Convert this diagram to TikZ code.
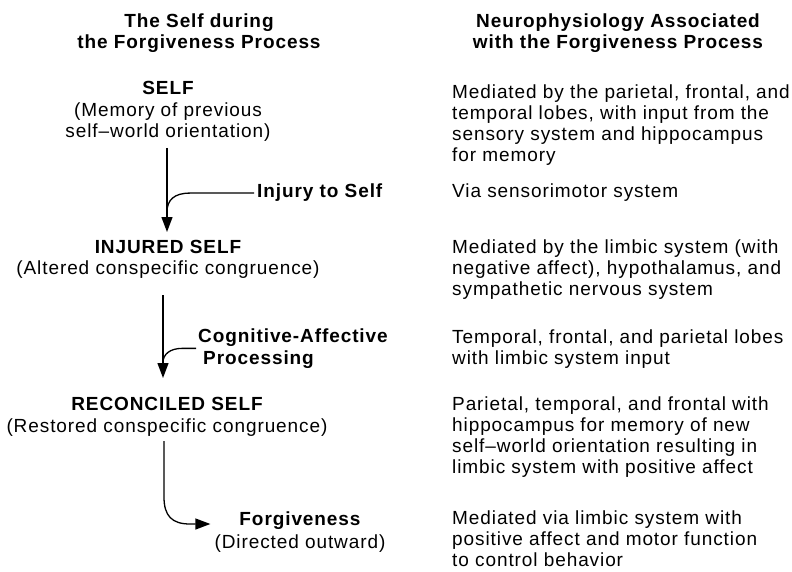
\documentclass[tikz,border=0pt]{standalone}
\usepackage{fontspec}
\setmainfont{Liberation Sans}[LetterSpace=4.8]
\usetikzlibrary{arrows.meta}
\begin{document}
\begin{tikzpicture}[x=1pt,y=-1pt,
  txt/.style={anchor=base, inner sep=0pt, font=\fontsize{19}{21}\selectfont},
  btxt/.style={txt, font=\fontsize{19}{21.5}\selectfont\bfseries},
  blockc/.style={txt, align=center},
  blockl/.style={txt, anchor=base west, align=left},
  conn/.style={line width=1.3pt},
  arr/.style={conn, -{Triangle[length=15pt,width=11pt]}}]
\useasboundingbox (0,0) rectangle (792,572);
% headers (anchor base = baseline of last line)
\node[btxt, align=center] (hl) at (199,49) {The Self during\\the Forgiveness Process};
\node[btxt, align=center] (hr) at (618,49) {Neurophysiology Associated\\with the Forgiveness Process};
% left column
\node[btxt] (self) at (168,95) {SELF};
\node[blockc] (selfd) at (168,138) {(Memory of previous\\self--world orientation)};
\node[btxt, anchor=base west] (injury) at (257,198) {Injury to Self};
\node[btxt] (injured) at (168,253) {INJURED SELF};
\node[blockc] (injuredd) at (168,274) {(Altered conspecific congruence)};
\node[btxt, anchor=base west, align=left] (cog) at (198,364) {Cognitive-Affective\\\hspace*{5pt}Processing};
\node[btxt] (recon) at (167,410) {RECONCILED SELF};
\node[blockc] (recond) at (167,432) {(Restored conspecific congruence)};
\node[btxt] (forg) at (300,525) {Forgiveness};
\node[blockc] (forgd) at (300,548) {(Directed outward)};
% right column (anchor base = baseline of last line)
\node[blockl] (r1) at (452,162) {Mediated by the parietal, frontal, and\\temporal lobes, with input from the\\sensory system and hippocampus\\for memory};
\node[blockl] (r2) at (452,198) {Via sensorimotor system};
\node[blockl] (r3) at (452,295) {Mediated by the limbic system (with\\negative affect), hypothalamus, and\\sympathetic nervous system};
\node[blockl] (r4) at (452,364) {Temporal, frontal, and parietal lobes\\with limbic system input};
\node[blockl] (r5) at (452,473) {Parietal, temporal, and frontal with\\hippocampus for memory of new\\self--world orientation resulting in\\limbic system with positive affect};
\node[blockl] (r6) at (452,566) {Mediated via limbic system with\\positive affect and motor function\\to control behavior};
% connectors
\coordinate (a1s) at (167,148);
\coordinate (a1e) at (167,232);
\draw[arr] (a1s) -- (a1e);
\draw[conn] ([xshift=-3pt]injury.west) -- ++(-64,0) .. controls +(-16,0) and +(0,-12) .. ++(-23,19);
\coordinate (a2s) at (163,295);
\coordinate (a2e) at (163,378);
\draw[arr] (a2s) -- (a2e);
\draw[conn] ([xshift=-2pt]cog.west) -- ++(-14,0) .. controls +(-12,0) and +(0,-8) .. ++(-19,14);
\coordinate (a3s) at (164,441);
\coordinate (a3e) at ([xshift=-4pt]forgd.west |- 0,524);
\draw[arr] (a3s) -- (164,497) .. controls (164,516) and (172,524) .. (190,524) -- (a3e);
\end{tikzpicture}
\end{document}
